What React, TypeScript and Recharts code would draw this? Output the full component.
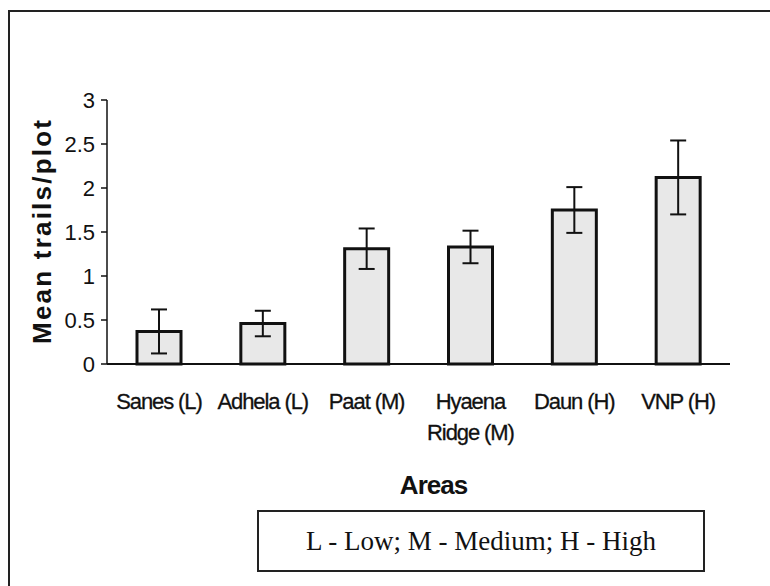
import React from "react";
import { BarChart, Bar, XAxis, YAxis, ErrorBar, Label } from "recharts";

const categories = ["Sanes (L)", "Adhela (L)", "Paat (M)", "Hyaena\nRidge (M)", "Daun (H)", "VNP (H)"];
const meanTrails = [0.37, 0.46, 1.31, 1.33, 1.75, 2.12];
const stdErrors = [0.25, 0.145, 0.23, 0.185, 0.26, 0.42];
const yTicks = [0, 0.5, 1, 1.5, 2, 2.5, 3];
const boundaryTicks = [0, 1, 2, 3, 4, 5, 6];
const yLabel = "Mean trails/plot";
const xLabel = "Areas";
const note = "L - Low; M - Medium; H - High";

const data = categories.map((c, i) => ({ name: c, mean: meanTrails[i], err: stdErrors[i] }));

const SANS = "'Liberation Sans', Arial, sans-serif";
const SERIF = "'Liberation Serif', 'Times New Roman', serif";

const XTick = (props: any) => {
  const { x, y, payload } = props;
  const lines = String(payload.value).split("\n");
  return (
    <g>
      {lines.map((l, i) => (
        <text
          key={i}
          x={x}
          y={y + 45 + i * 31}
          textAnchor="middle"
          fontFamily={SANS}
          fontSize={22}
          letterSpacing={-1.1}
          stroke="#111"
          strokeWidth={0.3}
          fill="#111"
        >
          {l}
        </text>
      ))}
    </g>
  );
};

const YLabelContent = (props: any) => {
  const vb = props.viewBox || {};
  const cx = vb.x + 22;
  const cy = vb.y + vb.height / 2;
  return (
    <text
      x={cx}
      y={cy}
      transform={`rotate(-90 ${cx} ${cy})`}
      textAnchor="middle"
      dominantBaseline="central"
      fontFamily={SANS}
      fontWeight="bold"
      fontSize={26}
      textLength={224}
      lengthAdjust="spacing"
      fill="#111"
    >
      {yLabel}
    </text>
  );
};

const XLabelContent = (props: any) => {
  const vb = props.viewBox || {};
  const cx = vb.x + vb.width / 2 + 15;
  const cy = vb.y + 121;
  return (
    <text
      x={cx}
      y={cy}
      textAnchor="middle"
      dominantBaseline="central"
      fontFamily={SANS}
      fontWeight="bold"
      fontSize={26}
      letterSpacing={-1}
      fill="#111"
    >
      {xLabel}
    </text>
  );
};

export default function App() {
  return (
    <div style={{ position: "relative", width: 770, height: 586, overflow: "hidden", background: "#fff" }}>
      <style>{`body{margin:0;}`}</style>
      <div
        style={{
          position: "absolute",
          left: 8,
          top: 10,
          width: 800,
          height: 620,
          border: "2px solid #222",
          boxSizing: "border-box",
        }}
      />
      <div style={{ position: "absolute", left: 0, top: 0 }}>
        <BarChart
          width={770}
          height={586}
          data={data}
          margin={{ top: 100, right: 40, left: 20, bottom: 151 }}
        >
          <XAxis
            xAxisId="bounds"
            type="number"
            domain={[0, 6]}
            ticks={boundaryTicks}
            tick={false}
            tickLine={{ stroke: "#111", strokeWidth: 1.5 }}
            tickSize={6}
            axisLine={false}
            height={1}
            allowDataOverflow
          />
          <XAxis
            dataKey="name"
            tick={<XTick />}
            tickLine={false}
            tickSize={0}
            tickMargin={0}
            interval={0}
            height={70}
            axisLine={{ stroke: "#111", strokeWidth: 2 }}
          >
            <Label content={<XLabelContent />} />
          </XAxis>
          <YAxis
            domain={[0, 3]}
            ticks={yTicks}
            width={87}
            tickSize={6}
            tickMargin={6}
            interval={0}
            axisLine={{ stroke: "#111", strokeWidth: 1.5 }}
            tickLine={{ stroke: "#111", strokeWidth: 1.5 }}
            tick={{ fontFamily: SANS, fontSize: 22, fill: "#111" }}
          >
            <Label content={<YLabelContent />} />
          </YAxis>
          <Bar
            dataKey="mean"
            barSize={44}
            fill="#e8e8e8"
            stroke="#111"
            strokeWidth={3}
            isAnimationActive={false}
          >
            <ErrorBar dataKey="err" width={8} stroke="#111" strokeWidth={2} direction="y" />
          </Bar>
        </BarChart>
      </div>
      <div
        style={{
          position: "absolute",
          left: 257,
          top: 510,
          width: 448,
          height: 62,
          border: "2px solid #222",
          boxSizing: "border-box",
          display: "flex",
          alignItems: "center",
          justifyContent: "center",
          fontFamily: SERIF,
          fontSize: 27,
          color: "#111",
        }}
      >
        {note}
      </div>
    </div>
  );
}
